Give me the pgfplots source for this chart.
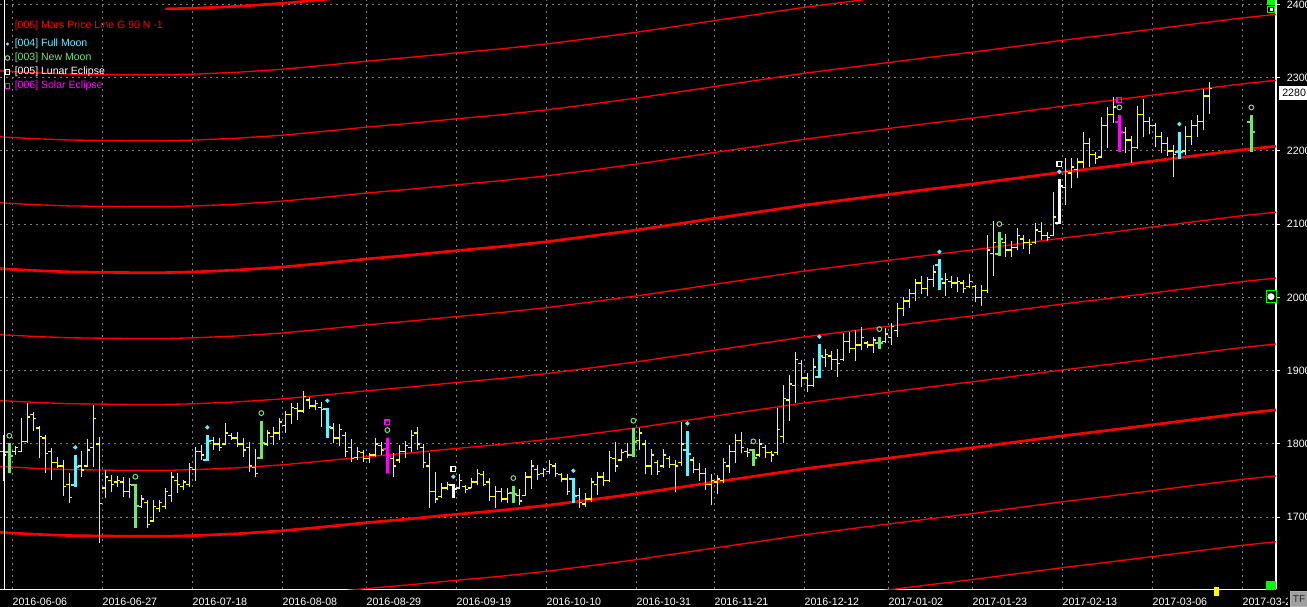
\documentclass[border=0pt]{standalone}
\usepackage{fontspec}
\setmainfont{Liberation Sans}
\usepackage{pgfplots}
\usepackage{pgfplotstable}
\pgfplotsset{compat=1.18}

\definecolor{barY}{RGB}{255,255,0}
\definecolor{mcyan}{RGB}{100,240,255}
\definecolor{mgreen}{RGB}{120,225,120}
\definecolor{mmag}{RGB}{255,0,255}
\definecolor{mred}{RGB}{255,0,0}
\definecolor{gridg}{RGB}{128,128,128}

% plain daily bars: index, open, high, low, close
\pgfplotstableread{
x o h l c
-1 1790 1812.3 1749.9 1785
1 1790 1797.2 1785 1795
2 1790 1835 1789.5 1803.2
3 1803 1856.4 1801.8 1837
4 1840 1844.1 1818.2 1835
5 1822 1824.5 1780.4 1810
6 1808 1812.3 1759.9 1787.2
7 1790 1794.1 1750.8 1775
8 1775 1782.7 1766.8 1770
9 1770 1778.1 1729 1742
10 1745 1759.9 1719 1727.2
12 1770 1790.4 1755.4 1764.5
13 1770 1806.3 1768.1 1791.8
14 1795 1853.2 1769 1835
15 1800 1810 1664.4 1719
16 1740 1764.5 1725.8 1755
17 1750 1757.7 1734.9 1745
18 1748 1756.3 1741.7 1750
19 1748 1754.5 1728.1 1735
20 1735 1753.1 1725.8 1745
22 1715 1730.3 1712.1 1725
23 1720 1723.5 1684.8 1690
24 1695 1723.5 1693.9 1715
25 1712 1723.5 1707.6 1720
26 1715 1739.4 1710.8 1735
27 1730 1762.2 1721.2 1755
28 1750 1760.8 1732.6 1745
29 1742 1750.8 1737.2 1748
30 1745 1773.6 1740.8 1768
31 1765 1796.3 1749.9 1790
32 1790 1798.6 1778.1 1785
34 1805 1810 1791.8 1800
35 1800 1807.7 1790.9 1795
36 1800 1828.2 1798.6 1815
37 1812 1815.4 1805.4 1808
38 1808 1816.8 1795.4 1800
39 1800 1807.7 1782.7 1792
40 1795 1803.2 1762.2 1770
41 1768 1792.7 1754.5 1760
43 1800 1819.1 1797.2 1815
44 1810 1823.6 1798.6 1815
45 1815 1835 1805.4 1830
46 1825 1845.5 1815.4 1840
47 1840 1855.5 1827.3 1850
48 1848 1855.5 1832.7 1845
49 1845 1872 1842 1865
50 1860 1864.6 1847.8 1852
51 1852 1860 1846.4 1855
52 1850 1856.9 1823.7 1847
54 1822 1828.2 1800.9 1808
55 1808 1826.8 1797.7 1820
56 1812 1815.9 1782.7 1790
57 1795 1806.8 1775.9 1780
58 1782 1796.4 1778.2 1790
59 1788 1791.8 1775 1780
60 1780 1787.3 1773.6 1785
61 1785 1807.7 1782.7 1800
62 1798 1803.2 1785 1792
64 1780 1787.3 1755.4 1770
65 1778 1798.6 1773.6 1790
66 1790 1804.1 1780.4 1798
67 1795 1819.1 1789.5 1812
68 1815 1823.7 1791.8 1800
69 1795 1799.5 1766.8 1775
70 1770 1787.3 1712.2 1735
71 1735 1761.3 1719 1725
72 1728 1746.3 1726.7 1740
73 1740 1748.6 1737.2 1745
75 1740 1758.6 1738.6 1750
76 1742 1744 1732.6 1738
77 1740 1753.1 1739.5 1748
78 1748 1765.9 1744 1760
79 1758 1763.1 1743.1 1745
80 1748 1753.1 1722.2 1728
81 1728 1743.1 1713.1 1735
82 1735 1739.5 1720.4 1725
83 1725 1739.5 1719 1732
85 1730 1738.6 1716.7 1722
86 1730 1762.2 1729.5 1755
87 1755 1778.2 1738.6 1770
88 1765 1771.3 1750.8 1758
89 1760 1767.7 1755.4 1765
90 1762 1778.2 1758.6 1772
91 1770 1773.6 1755.4 1760
92 1758 1759.9 1747.7 1752
93 1752 1758.6 1730.4 1735
95 1730 1739.5 1712.2 1720
96 1718 1732.6 1714.4 1725
97 1725 1753.1 1721.3 1748
98 1745 1762.2 1730.4 1755
99 1755 1762.2 1743.1 1750
100 1750 1790.4 1747.7 1782
101 1780 1802.3 1761.3 1770
102 1778 1793.2 1776.8 1788
103 1790 1800.9 1780.4 1785
105 1805 1821.4 1791.8 1815
106 1800 1805.5 1758.6 1770
107 1770 1793.2 1757.7 1785
108 1775 1778.2 1757.7 1762
109 1770 1793.2 1767.7 1785
110 1780 1784.1 1767.7 1772
111 1772 1778.2 1734 1770
112 1775 1829.6 1770.4 1800
114 1778 1782.7 1759.9 1765
115 1765 1773.6 1749.5 1760
116 1760 1767.7 1737.2 1745
117 1745 1758.6 1716.7 1750
118 1748 1757.7 1731.3 1752
119 1750 1780.4 1746.3 1775
120 1770 1798.6 1759.9 1790
121 1790 1813.2 1773.6 1805
122 1805 1815.9 1787.3 1795
123 1790 1795 1782.7 1788
125 1785 1806.8 1782.7 1800
126 1795 1798.6 1780.4 1788
127 1788 1790.4 1775 1785
128 1788 1848.7 1785 1820
129 1810 1880.5 1801.8 1862
130 1860 1894.2 1831.9 1882
131 1880 1926 1856.4 1915
132 1910 1914.7 1878.3 1890
133 1890 1896.5 1871.5 1880
134 1880 1917 1877.4 1905
136 1918 1929.2 1905.6 1922
137 1920 1927.4 1901 1915
138 1915 1929.2 1891.9 1910
139 1915 1951.1 1913.8 1940
140 1940 1953.4 1923.8 1930
141 1930 1955.6 1913.8 1935
142 1935 1959.3 1928.3 1945
143 1938 1941 1930.6 1935
144 1935 1945.6 1923.8 1942
146 1940 1957.9 1937.4 1950
147 1945 1965.7 1935.2 1960
148 1955 1992 1945.6 1985
149 1985 2000 1975 1995
150 1995 2012 1985 2005
151 2005 2025 1995 2020
152 2020 2030 2005 2012
153 2012 2028 2002 2025
154 2025 2045 2015 2035
156 2020 2033 2002.1 2025
157 2022 2029.4 2012.5 2020
158 2020 2028.5 2008 2022
159 2020 2023.9 2005.7 2012
160 2015 2032.1 2012.5 2022
161 2015 2017.1 1994.3 2000
162 2000 2017.1 1988.4 2010
163 2010 2085.4 2005.7 2065
164 2060 2104.5 2029.4 2075
166 2075 2086.7 2054.9 2065
167 2065 2077.6 2054.9 2068
168 2068 2094.4 2064.9 2085
169 2080 2085.4 2065.8 2075
170 2075 2079.4 2059.4 2072
171 2075 2101.3 2073.1 2092
172 2090 2103.5 2078.5 2085
173 2085 2089.9 2077.6 2082
174 2085 2144.5 2084 2110
176 2150 2190 2126.3 2172
177 2170 2190 2149.1 2178
178 2175 2190 2162.6 2185
179 2185 2226.4 2176.3 2210
180 2210 2217.3 2178.6 2195
181 2195 2199.1 2182.2 2190
182 2192 2245.9 2190 2235
183 2235 2259.6 2203.6 2250
184 2250 2274.1 2237.7 2260
186 2225 2233.2 2196.8 2215
187 2215 2220.4 2184.1 2205
188 2205 2261.4 2202.2 2250
189 2250 2270.5 2219.5 2240
190 2240 2245.9 2223.2 2235
191 2235 2238.6 2205.9 2220
192 2220 2226.4 2196.8 2210
193 2210 2219.5 2193.1 2200
194 2200 2208.2 2164 2195
196 2200 2234.1 2194.5 2220
197 2220 2242.3 2208.2 2235
198 2235 2249.1 2219.5 2240
199 2240 2284.2 2228.6 2275
200 2275 2294.6 2250.5 2285
}\ybars

% full moon bars
\pgfplotstableread{
x o h l c
11 1744 1785 1741.7 1768.1
33 1778.1 1812.3 1777.2 1804.5
53 1847.8 1848.7 1808.6 1823.7
94 1752.2 1753.1 1719 1729.5
113 1791.8 1817.7 1756.8 1785.9
135 1891 1936.1 1889.7 1920.1
155 2045 2052 2010 2025
195 2199.1 2226.4 2188.6 2199.1
}\cyanbars

% new moon bars
\pgfplotstableread{
x o h l c
0 1789.5 1800.9 1759.9 1783.6
21 1744 1744.9 1684.8 1715.3
42 1780.4 1831.8 1779 1801.8
84 1732.6 1743.1 1719 1731.3
104 1785 1821.4 1782.7 1802.3
124 1791.8 1793.2 1770.4 1781.3
145 1938.3 1946.5 1929.2 1938.3
165 2059.4 2089.9 2056.7 2079.4
207 2239.1 2249.1 2199.1 2225.5
}\greenbars

% lunar eclipse bars
\pgfplotstableread{
x o h l c
74 1744 1744.9 1726.7 1738.1
175 2102.2 2161.4 2100.4 2152.3
}\whitebars

% solar eclipse bars
\pgfplotstableread{
x o h l c
63 1793.2 1808.6 1759.9 1783.6
185 2239.1 2249.1 2199.1 2225.5
}\magbars

% Mars price lines, one column per 90-point harmonic
\pgfplotstableread{
x n6 n5 n4 n3 n2 n1 p0 p1 p2 p3 p4
-1.555 1499.5 1589.5 1679.5 1769.5 1859.5 1949.5 2039.5 2129.5 2219.5 2309.5 2399.5
-0.9 1499 1589 1679 1769 1859 1949 2039 2129 2219 2309 2399
5 1496.5 1586.5 1676.5 1766.5 1856.5 1946.5 2036.5 2126.5 2216.5 2306.5 2396.5
10 1495 1585 1675 1765 1855 1945 2035 2125 2215 2305 2395
20 1494 1584 1674 1764 1854 1944 2034 2124 2214 2304 2394
26 1494 1584 1674 1764 1854 1944 2034 2124 2214 2304 2394
31 1495 1585 1675 1765 1855 1945 2035 2125 2215 2305 2395
38 1497.5 1587.5 1677.5 1767.5 1857.5 1947.5 2037.5 2127.5 2217.5 2307.5 2397.5
45.4 1501.5 1591.5 1681.5 1771.5 1861.5 1951.5 2041.5 2131.5 2221.5 2311.5 2401.5
52 1506.5 1596.5 1686.5 1776.5 1866.5 1956.5 2046.5 2136.5 2226.5 2316.5 2406.5
59.4 1512.5 1602.5 1692.5 1782.5 1872.5 1962.5 2052.5 2142.5 2232.5 2322.5 2412.5
67 1518 1608 1698 1788 1878 1968 2058 2148 2238 2328 2418
74.6 1524 1614 1704 1794 1884 1974 2064 2154 2244 2334 2424
82 1529.5 1619.5 1709.5 1799.5 1889.5 1979.5 2069.5 2159.5 2249.5 2339.5 2429.5
89.4 1536 1626 1716 1806 1896 1986 2076 2166 2256 2346 2436
97 1544 1634 1724 1814 1904 1994 2084 2174 2264 2354 2444
104.4 1552 1642 1732 1822 1912 2002 2092 2182 2272 2362 2452
111 1560 1650 1740 1830 1920 2010 2100 2190 2280 2370 2460
117.5 1568 1658 1748 1838 1928 2018 2108 2198 2288 2378 2468
125 1577 1667 1757 1847 1937 2027 2117 2207 2297 2387 2477
132.4 1586 1676 1766 1856 1946 2036 2126 2216 2306 2396 2486
139 1593 1683 1773 1863 1953 2043 2133 2223 2313 2403 2493
146.3 1600.5 1690.5 1780.5 1870.5 1960.5 2050.5 2140.5 2230.5 2320.5 2410.5 2500.5
153.5 1608 1698 1788 1878 1968 2058 2148 2238 2328 2418 2508
160.6 1615 1705 1795 1885 1975 2065 2155 2245 2335 2425 2515
168 1623 1713 1803 1893 1983 2073 2163 2253 2343 2433 2523
175.4 1631 1721 1811 1901 1991 2081 2171 2261 2351 2441 2531
183 1638.5 1728.5 1818.5 1908.5 1998.5 2088.5 2178.5 2268.5 2358.5 2448.5 2538.5
190.3 1646 1736 1826 1916 2006 2096 2186 2276 2366 2456 2546
198 1654 1744 1834 1924 2014 2104 2194 2284 2374 2464 2554
205.8 1662 1752 1842 1932 2022 2112 2202 2292 2382 2472 2562
211.1 1666.5 1756.5 1846.5 1936.5 2026.5 2116.5 2206.5 2296.5 2386.5 2476.5 2566.5
}\mars

\pgfplotsset{
  ohlc/.style={forget plot, mark=none, line cap=butt},
  hl/.style={ohlc, quiver={u=0, v=\thisrow{h}-\thisrow{l}}},
  otk/.style={ohlc, quiver={u=-#1, v=0}},
  ctk/.style={ohlc, quiver={u=#1, v=0}},
}

\begin{document}
\begin{tikzpicture}[font=\fontsize{8pt}{9.6pt}\selectfont]
\begin{scope}[yshift=442.125pt, x=0.75pt, y=-0.75pt]
  \fill[black] (0,0) rectangle (1307,607);
\end{scope}
\begin{axis}[
  scale only axis, width=957pt, height=442.125pt,
  xmin=-1.555, xmax=211.11, ymin=1601.35, ymax=2406.14,
  axis x line*=bottom, axis y line*=right,
  axis line style={white, line width=1.1pt, -},
  xtick={0.5,15.5,30.5,45.5,59.5,74.5,89.5,104.5,117.5,132.5,146.5,160.5,175.5,190.5,205.5},
  xticklabels={2016-06-06,2016-06-27,2016-07-18,2016-08-08,2016-08-29,2016-09-19,2016-10-10,2016-10-31,2016-11-21,2016-12-12,2017-01-02,2017-01-23,2017-02-13,2017-03-06,2017-03-27},
  ytick={1600,1700,1800,1900,2000,2100,2200,2300,2400},
  grid=major,
  grid style={gridg, line width=0.75pt, dash pattern=on 1.5pt off 3pt},
  x tick style={draw=none},
  y tick style={white, line width=0.75pt},
  tick align=outside, major tick length=3pt,
  x tick label style={white, anchor=north west, inner sep=0pt, yshift=-3pt},
  y tick label style={white, anchor=west, inner sep=0pt, xshift=5pt},
  /pgf/number format/1000 sep={},
  /pgf/number format/assume math mode=true,
]
% Mars price lines
\addplot[mred, line width=1pt] table[x=x, y=n6] {\mars};
\addplot[mred, line width=1pt] table[x=x, y=n5] {\mars};
\addplot[mred, line width=2pt] table[x=x, y=n4] {\mars};
\addplot[mred, line width=1pt] table[x=x, y=n3] {\mars};
\addplot[mred, line width=1pt] table[x=x, y=n2] {\mars};
\addplot[mred, line width=1pt] table[x=x, y=n1] {\mars};
\addplot[mred, line width=2pt] table[x=x, y=p0] {\mars};
\addplot[mred, line width=1pt] table[x=x, y=p1] {\mars};
\addplot[mred, line width=1pt] table[x=x, y=p2] {\mars};
\addplot[mred, line width=1pt] table[x=x, y=p3] {\mars};
\addplot[mred, line width=2pt, restrict x to domain=25.5:220] table[x=x, y=p4] {\mars};

% plain bars
\addplot[barY, line width=1pt, hl] table[x=x, y=l] {\ybars};
\addplot[barY, line width=1pt, otk=0.5] table[x=x, y=o] {\ybars};
\addplot[barY, line width=1pt, ctk=0.5] table[x=x, y=c] {\ybars};

% highlighted bars
\addplot[mcyan, line width=2pt, hl] table[x=x, y=l] {\cyanbars};
\addplot[mcyan, line width=1.5pt, otk=0.65] table[x=x, y=o] {\cyanbars};
\addplot[mcyan, line width=1.5pt, ctk=0.65] table[x=x, y=c] {\cyanbars};
\addplot[mgreen, line width=2pt, hl] table[x=x, y=l] {\greenbars};
\addplot[mgreen, line width=1.5pt, otk=0.65] table[x=x, y=o] {\greenbars};
\addplot[mgreen, line width=1.5pt, ctk=0.65] table[x=x, y=c] {\greenbars};
\addplot[white, line width=2pt, hl] table[x=x, y=l] {\whitebars};
\addplot[white, line width=1.5pt, otk=0.65] table[x=x, y=o] {\whitebars};
\addplot[white, line width=1.5pt, ctk=0.65] table[x=x, y=c] {\whitebars};
\addplot[mmag, line width=2pt, hl] table[x=x, y=l] {\magbars};
\addplot[mmag, line width=1.5pt, otk=0.65] table[x=x, y=o] {\magbars};
\addplot[mmag, line width=1.5pt, ctk=0.65] table[x=x, y=c] {\magbars};

% moon and eclipse markers above the highs
\addplot[only marks, mark=*, mark size=1.4pt, mcyan, mark options={yshift=5.7pt}] table[x=x, y=h] {\cyanbars};
\addplot[only marks, mark=*, mark size=1.4pt, mcyan, mark options={yshift=5.7pt}] table[x=x, y=h] {\whitebars};
\addplot[only marks, mark=o, mark size=1.8pt, mgreen, line width=0.75pt, mark options={yshift=5.7pt}] table[x=x, y=h] {\greenbars};
\addplot[only marks, mark=o, mark size=1.8pt, mgreen, line width=0.75pt, mark options={yshift=5.7pt}] table[x=x, y=h] {\magbars};
\addplot[only marks, mark=square, mark size=1.8pt, white, line width=0.9pt, mark options={yshift=11.4pt}] table[x=x, y=h] {\whitebars};
\addplot[only marks, mark=square, mark size=1.8pt, mmag, line width=0.9pt, mark options={yshift=11.4pt}] table[x=x, y=h] {\magbars};
\end{axis}

\begin{scope}[yshift=442.125pt, x=0.75pt, y=-0.75pt]
  \draw[white, line width=1.1pt] (4.5,0) -- (4.5,589.5);
  % legend
  \begin{scope}[font=\fontsize{7.9pt}{9pt}\selectfont]
    \node[anchor=west, inner sep=0pt, text=mred] at (14.5,26) {[005] Mars Price Line G 90 N -1};
    \fill[mcyan] (7.5,44) circle (1.3pt);
    \node[anchor=west, inner sep=0pt, text=mcyan] at (14.5,44) {[004] Full Moon};
    \draw[mgreen, line width=0.75pt] (7.5,58) circle (1.7pt);
    \node[anchor=west, inner sep=0pt, text=mgreen] at (14.5,58) {[003] New Moon};
    \draw[white, line width=0.75pt] (5.2,69.7) rectangle (9.8,74.3);
    \node[anchor=west, inner sep=0pt, text=white] at (14.5,72) {[005] Lunar Eclipse};
    \draw[mmag, line width=0.75pt] (5.2,83.7) rectangle (9.8,88.3);
    \node[anchor=west, inner sep=0pt, text=mmag] at (14.5,86) {[006] Solar Eclipse};
  \end{scope}
  % price axis flags
  \fill[white] (1279,86.5) rectangle (1310,100);
  \node[anchor=west, inner sep=0pt, text=black] at (1282,93.3) {2280};
  \fill[green] (1267,0) rectangle (1275,5.5);
  \draw[green, line width=0.75pt, fill=black] (1267.5,6.5) rectangle (1274.5,13);
  \fill[white] (1269.5,8.5) rectangle (1272.5,11);
  \draw[green, line width=0.75pt, fill=black] (1266,290.5) rectangle (1276,303);
  \fill[white] (1271,296.7) circle (2.6pt);
  \fill[green] (1266,581) rectangle (1275.5,590);
  \fill[barY] (1213.5,587.5) rectangle (1218.5,596.5);
  \fill[black] (1288,590.5) rectangle (1307,607);
  \draw[gray!60, fill=gray!75, line width=0.75pt] (1290.5,591.5) rectangle (1307,607);
  \node[inner sep=0pt, text=black!85, font=\fontsize{7.5pt}{8pt}\selectfont] at (1299,599.5) {TF};
\end{scope}
\pgfresetboundingbox
\begin{scope}[yshift=442.125pt, x=0.75pt, y=-0.75pt]
  \useasboundingbox (0,0) rectangle (1307,607);
\end{scope}
\end{tikzpicture}
\end{document}
